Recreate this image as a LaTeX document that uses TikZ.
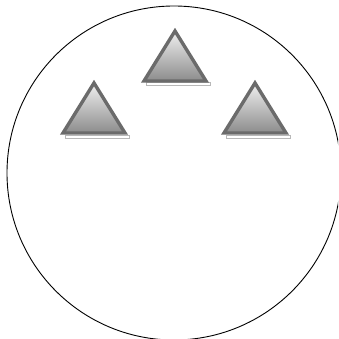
\documentclass[tikz,border=0pt]{standalone}
\begin{document}
\begin{tikzpicture}[x=1pt,y=-1pt,
  tri/.style={draw=black!58, line width=3.4pt, line join=miter, top color=black!6, bottom color=black!45},
  shad/.style={draw=black!28, line width=1pt, fill=white}]
\useasboundingbox (0,0) rectangle (338,339);
\begin{scope}
\clip (0,0) rectangle (338,339);
\node[draw, circle, line width=0.9pt, minimum size=334pt, inner sep=0pt] (ring) at (174,173) {};
\end{scope}
\foreach \n/\cx/\ty in {t1/175/31, t2/94/83, t3/255/83}{
  \draw[shad] (\cx-29,\ty+52) rectangle (\cx+35,\ty+55);
  \draw[tri] (\cx,\ty) -- (\cx+31,\ty+50) -- (\cx-31,\ty+50) -- cycle;
  \coordinate (\n) at (\cx,\ty);
}
\end{tikzpicture}
\end{document}
